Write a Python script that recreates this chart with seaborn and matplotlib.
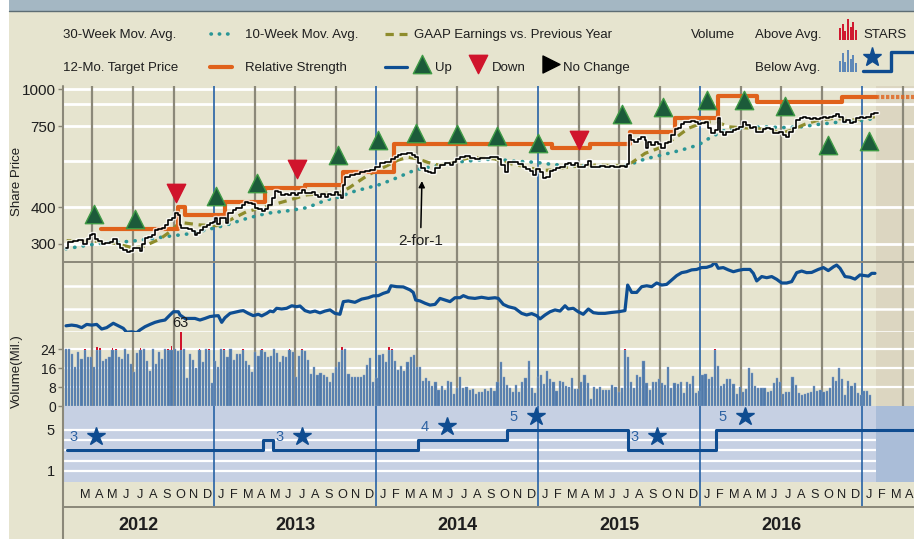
import numpy as np
import matplotlib
matplotlib.use("Agg")
import matplotlib.pyplot as plt
import matplotlib.patheffects as pe
from matplotlib.patches import Rectangle
from matplotlib.ticker import NullLocator, NullFormatter
import seaborn as sns

# ---------------- data (x axis = months since Jan 2012) ----------------
first_week_month = 1.035
price_wk = [0.0, 0.8, 2.4, 4.0, 5.6, 6.7, 7.7, 8.3, 9.3, 10.4, 11.5, 12.6, 14.2, 15.2, 16.3, 17.4, 18.5, 19.5, 20.6, 21.7,
            22.8, 23.8, 24.4, 25.4, 26.5, 27.6, 28.7, 29.7, 30.8, 31.9, 32.9, 34.0, 35.1, 36.2, 36.7, 37.2, 38.3, 39.4, 40.5, 41.5,
            42.1, 43.1, 44.2, 45.3, 46.4, 47.4, 48.0, 48.5, 49.6, 50.6, 51.4, 52.3, 53.9, 54.9, 56.6, 57.6, 58.7, 59.8, 60.8, 61.9,
            63.0, 64.1, 65.1, 66.2, 67.3, 68.4, 69.4, 70.5, 71.6, 72.6, 73.7, 74.8, 75.9, 76.9, 78.0, 79.1, 80.2, 81.2, 82.3, 83.4,
            84.4, 85.5, 86.6, 87.7,
            88.2, 88.7, 89.3, 89.8, 91.4, 93.0, 94.6, 96.2, 97.9, 99.5, 101.1, 102.7, 103.8, 104.8, 105.9, 107.0, 108.0, 109.7,
            111.3, 112.3, 113.4, 114.5, 115.6, 116.6, 117.7, 118.8, 120.4, 122.0, 123.6, 124.7, 125.7, 126.8, 128.4, 130.0, 131.6,
            133.3, 134.9, 136.5, 138.1, 139.2, 140.2, 141.3, 142.4, 144.0, 145.6, 147.2, 148.3, 149.4, 150.4, 151.5, 152.6, 153.6,
            154.7, 155.8, 156.9, 157.9, 159.0, 160.6, 161.7, 162.8, 163.8, 164.9, 166.0, 167.1, 168.1, 169.2, 170.3, 171.9, 173.5,
            175.1, 176.5,
            178.3, 179.9, 180.8, 181.2, 182.1, 183.1, 184.2, 185.3, 186.4, 186.9, 187.4, 188.5, 189.6, 190.7, 191.7, 192.8, 193.9,
            194.9, 196.0, 197.1, 198.2, 199.2, 200.3, 201.4, 202.5, 203.5, 204.6, 205.7, 206.7, 207.8, 208.9, 210.0, 210.5, 211.6,
            212.6, 213.7, 214.8, 215.9, 216.9, 218.0, 219.1, 220.2, 221.2, 222.3, 223.4, 224.5, 225.5, 226.6, 227.7, 228.7, 229.8,
            230.9, 232.0, 233.0, 234.1, 235.2, 236.3, 237.3, 238.4, 239.5, 240.5, 241.6, 242.7, 243.8, 244.8, 245.9, 247.0, 248.1,
            249.1, 250.2, 251.3, 252.4, 253.4, 254.5, 255.6, 256.6, 257.7, 258.8, 259.3, 260.4, 261.5]
price_val = [290, 304, 306, 310, 301, 312, 322, 324, 312, 306, 299, 303, 304, 312, 299, 291, 287, 282, 283, 290,
             290, 285, 301, 314, 318, 322, 335, 338, 340, 348, 362, 366, 383, 376, 348, 340, 340, 337, 331, 322,
             326, 335, 342, 348, 354, 357, 366, 350, 366, 368, 353, 381, 391, 397, 407, 416, 412, 409, 398, 394,
             388, 393, 407, 428, 454, 451, 440, 442, 440, 445, 440, 445, 457, 445, 445, 449, 440, 434, 442, 434,
             442, 440, 449, 440,
             440, 428, 475, 507, 514, 517, 524, 530, 534, 548, 563, 570, 570, 582, 593, 600, 604, 608,
             600, 593, 563, 541, 530, 524, 520, 541, 555, 563, 555, 570, 582, 593, 597, 586, 582,
             588, 588, 593, 593, 582, 555, 527, 570, 570, 559, 548, 538, 530, 514, 538, 524, 500,
             507, 530, 534, 541, 545, 559, 563, 555, 566, 548, 545, 555, 573, 548, 548, 552, 548,
             550, 548,
             552, 548, 559, 701, 675, 666, 680, 692, 675, 632, 666, 649, 663, 652, 632, 658, 666,
             701, 735, 742, 763, 774, 778, 782, 774, 763, 769, 774, 742, 711, 729, 799, 720, 701,
             720, 720, 729, 735, 748, 778, 758, 742, 748, 720, 716, 735, 739, 735, 711, 711, 720,
             701, 692, 720, 739, 788, 803, 809, 799, 795, 799, 793, 803, 809, 803, 809, 813, 824,
             809, 778, 788, 769, 774, 799, 805, 799, 805, 809, 824, 830, 830]

ma_teal_m = [1.04, 2.81, 4.3, 5.78, 7.01, 8.5, 9.98, 11.46, 12.94, 14.42, 15.9, 17.39, 18.87, 20.35, 21.21, 22.44,
             24.17, 25.16, 26.89, 28.13, 29.11, 30.35, 31.58, 32.81, 34.05, 35.78, 37.01, 38.24, 39.73, 41.46, 42.69,
             43.93, 45.16, 46.64, 47.87, 48.87, 49.85, 51.33, 52.81, 54.05, 55.53, 56.76, 58.24, 59.73, 60.96]
ma_teal_v = [289, 298, 304, 306, 311, 318, 324, 335, 348, 366, 381, 388, 398, 423, 432, 453,
             475, 494, 534, 548, 560, 570, 577, 582, 573, 567, 558, 552, 551, 548, 555,
             582, 600, 624, 649, 692, 729, 743, 748, 743, 748, 762, 775, 782, 799]

ma_olive_m = [1.09, 4.05, 6.02, 6.76, 8.0, 8.74, 9.48, 10.96, 12.2, 12.94, 14.42, 15.9, 17.39, 18.87, 20.35, 21.21,
              21.95, 22.69, 23.43, 24.17, 24.91, 25.65, 26.39, 27.13, 27.87, 28.61, 29.36, 30.1, 30.84, 31.83, 32.81,
              33.8, 34.79, 35.53, 36.27, 37.01, 38.0, 39.24, 40.47, 41.65, 42.44, 43.06, 43.93, 44.91, 46.15, 47.13,
              48.13, 49.11, 50.1, 51.33, 52.57, 53.31, 54.05, 54.79, 55.78, 56.76, 58.0, 59.24, 60.22, 60.96]
ma_olive_v = [308, 306, 291, 294, 312, 330, 355, 348, 346, 357, 386, 402, 420, 440, 445, 445,
              463, 488, 514, 534, 555, 577, 590, 582, 566, 555, 561, 575, 586, 588, 582,
              563, 551, 541, 532, 534, 545, 552, 555, 552, 552, 570, 608, 632, 684, 739,
              769, 782, 748, 742, 735, 729, 711, 729, 763, 788, 799, 788, 799, 809]

target_m = [3.61, 9.36, 9.85, 12.81, 15.78, 18.74, 21.58, 25.36, 37.01, 39.85, 42.81, 46.15, 49.36, 52.2, 58.5]
target_v = [337, 400, 376, 415, 465, 475, 524, 652, 635, 652, 720, 803, 953, 905, 941]

rating_m = [3.13, 6.15, 9.16, 12.15, 15.16, 18.17, 21.16, 24.17, 26.96, 29.98, 32.99, 35.98, 39.04, 42.24,
            45.28, 48.5, 51.28, 54.3, 57.5, 60.54]
rating_v = [379, 365, 447, 437, 484, 537, 600, 675, 711, 705, 698, 657, 675, 826, 870, 924, 919, 880, 649, 671]
rating_dir = ['up', 'up', 'down', 'up', 'up', 'down', 'up', 'up', 'up', 'up', 'up', 'up', 'down', 'up',
              'up', 'up', 'up', 'up', 'up', 'up']

rs_m = [1.04, 1.46, 1.83, 2.2, 2.57, 2.94, 3.31, 3.68, 4.05, 4.54, 4.91, 5.28, 5.53, 5.9, 6.27, 6.52, 6.89, 7.26,
        7.63, 8.0, 8.37, 8.74, 8.99, 9.36, 9.48, 9.85, 10.22, 10.59, 10.96, 11.33, 11.7, 12.07, 12.32, 12.57, 12.81,
        13.19, 13.56, 13.93, 14.17, 14.54, 14.91, 15.28, 15.53, 15.9, 16.15, 16.39, 16.64, 17.01, 17.38, 17.76, 18.12,
        18.37, 18.74, 19.11, 19.48, 19.85, 20.22, 20.59,
        20.96, 21.33, 21.58, 21.95, 22.44, 22.94, 23.43, 23.8, 24.17, 24.54, 24.91, 25.11, 25.53, 26.02, 26.52, 26.76,
        26.94, 27.26, 27.63, 28.0, 28.37, 28.74, 29.11, 29.48, 29.85, 30.22, 30.47, 30.84, 31.33, 31.82, 32.32, 32.81,
        33.06, 33.43, 33.8, 34.29, 34.79, 35.16, 35.53, 35.9, 36.15, 36.52, 36.89, 37.26, 37.63, 38.0, 38.24, 38.61,
        38.98, 39.35, 39.73, 40.1, 40.47,
        40.96, 41.45, 41.95, 42.44, 42.64, 42.94, 43.31, 43.68, 44.05, 44.42, 44.79, 45.16, 45.53, 45.9, 46.27, 46.64,
        47.0, 47.38, 47.75, 48.12, 48.49, 48.86, 49.11, 49.35, 49.72, 50.1, 50.47, 50.84, 51.21, 51.7, 51.95, 52.2,
        52.57, 52.94, 53.31, 53.68, 54.05, 54.42, 54.79, 55.16, 55.53, 55.9, 56.27, 56.76, 57.14, 57.5, 57.9, 58.12,
        58.37, 58.74, 59.11, 59.48, 59.85, 60.22, 60.47, 60.72, 60.96]
rs_v = [0.27, 0.30, 0.27, 0.19, 0.33, 0.30, 0.33, 0.13, 0.19, 0.38, 0.27, 0.16, -0.01, 0.01, -0.03, 0.09, 0.23, 0.33,
        0.42, 0.48, 0.52, 0.74, 0.88, 0.88, 0.74, 0.59, 0.59, 0.59, 0.52, 0.59, 0.67, 0.70, 0.71, 0.42, 0.62,
        0.81, 0.86, 0.91, 0.93, 0.81, 0.71, 0.77, 0.70, 0.81, 0.91, 0.88, 1.03, 1.00, 1.03, 1.14, 1.10,
        1.13, 0.93, 0.86, 0.91, 0.83, 0.91, 0.96,
        0.81, 0.77, 1.32, 1.35, 1.29, 1.43, 1.49, 1.57, 1.58, 1.68, 1.75, 2.01, 1.97, 1.96, 1.83, 1.72,
        1.39, 1.35, 1.25, 1.17, 1.20, 1.46, 1.39, 1.32, 1.49, 1.49, 1.58, 1.49, 1.46, 1.51, 1.46, 1.49,
        1.46, 1.20, 1.10, 1.03, 0.81, 0.74, 0.80, 0.71, 0.57, 0.74, 0.88, 0.96, 0.91, 1.14, 1.00, 1.03,
        0.88, 0.77, 1.00, 0.84, 0.81,
        0.81, 0.85, 0.88, 0.93, 2.04, 1.72, 1.72, 1.97, 2.01, 1.97, 2.13, 2.04, 2.07, 2.26, 2.45, 2.58,
        2.62, 2.70, 2.72, 2.80, 2.81, 2.88, 3.03, 2.77, 2.80, 2.70, 2.62, 2.68, 2.72, 2.72, 2.55, 2.22,
        2.41, 2.36, 2.41, 2.29, 2.13, 2.13, 2.19, 2.58, 2.65, 2.58, 2.59, 2.72, 2.80, 2.67, 2.84, 2.91,
        2.77, 2.41, 2.38, 2.30, 2.48, 2.45, 2.43, 2.55, 2.55]

volume = [23.9, 23.9, 21.7, 16.4, 22.9, 19.9, 24.1, 20.7, 20.7, 16.3,
          25.0, 24.4, 18.9, 19.9, 20.7, 24.6, 24.1, 20.7, 19.9, 23.9,
          21.7, 17.7, 14.3, 22.4, 24.3, 23.9, 19.1, 14.6, 23.9, 17.7,
          22.7, 19.6, 23.9, 24.1, 25.3, 23.9, 23.1, 63.0, 23.9, 11.7,
          21.7, 19.3, 16.0, 24.1, 18.4, 23.9, 24.1, 9.6, 18.9, 16.4,
          23.9, 24.1, 20.7, 23.9, 19.3, 22.1, 21.7, 24.1, 18.9, 17.4,
          14.3, 22.9, 21.0, 24.1, 22.9, 20.7, 21.0, 23.9, 22.4, 18.4,
          21.0, 20.7, 24.1, 22.7, 12.4, 21.0, 24.1, 23.1, 19.3, 13.6,
          16.4, 13.1, 14.1, 13.1, 12.4, 10.3, 13.9, 16.4,
          18.6, 25.0, 23.9, 13.4, 12.1, 12.4, 12.1, 12.1, 13.1, 17.1,
          20.3, 10.3, 11.7, 21.3, 22.0, 18.4, 25.0, 24.1, 19.1, 15.3,
          17.0, 14.9, 18.6, 20.7, 21.4, 16.6, 16.3, 10.7, 11.7, 10.6,
          8.6, 10.3, 6.7, 8.4, 6.7, 10.7, 10.3, 4.9, 7.4, 12.4,
          7.4, 8.1, 6.7, 7.0, 5.0, 6.0, 6.0, 7.1, 6.3, 7.4,
          6.4, 10.0, 18.6, 12.1, 8.9, 7.4, 6.0, 8.9, 5.7, 10.0,
          11.7, 19.1, 7.4, 5.3, 12.4, 13.1, 9.3, 14.9, 11.3, 10.3,
          6.3, 10.7, 10.3, 8.4, 8.1, 12.0, 7.0, 7.0, 9.9, 13.1,
          9.6, 2.9, 7.9, 7.1, 7.9, 6.7, 6.7, 6.7,
          8.9, 8.1, 6.0, 7.7, 24.2, 20.6, 9.9, 7.7, 12.9, 12.1,
          18.9, 9.6, 6.7, 10.0, 10.0, 11.3, 9.6, 8.9, 16.3, 7.4,
          9.6, 9.3, 10.3, 5.6, 10.0, 9.1, 12.7, 5.3, 6.3, 13.1,
          13.6, 11.3, 12.4, 24.1, 17.0, 8.4, 9.3, 11.3, 11.4, 9.1,
          5.0, 7.9, 5.7, 7.1, 16.0, 14.1, 8.4, 7.4, 7.4, 7.4,
          5.7, 6.3, 9.6, 11.7, 10.3, 5.0, 6.0, 6.0, 12.1, 8.9,
          5.6, 4.6, 5.0, 5.3, 5.7, 8.4, 6.3, 6.7, 5.7, 6.3,
          7.4, 12.1, 10.7, 16.0, 11.3, 4.6, 10.6, 8.6, 9.6, 5.3,
          4.6, 6.4, 6.3, 4.6]
vol_above_avg = 24.0

stars_m = [1.09, 15.63, 16.37, 27.11, 33.70, 42.67, 49.19]
stars_v = [3, 4, 3, 4, 5, 3, 5]

split_m, split_tip, split_text, split_label = 27.4, 490, 308, "2-for-1"
future_start = 61.04
month_letters = "JFMAMJJASOND"
years = [2012, 2013, 2014, 2015, 2016]
price_ticks = [300, 400, 750, 1000]
price_grid = [300, 400, 573, 750, 890, 1000]
vol_ticks = [0, 8, 16, 24]
star_ticks = [1, 5]

# ---------------- style ----------------
sns.set_theme(style="white", rc={"axes.facecolor": "none"})
plt.rcParams["font.family"] = ["Liberation Sans", "DejaVu Sans"]

BEIGE, FUT = "#e6e4cf", "#dcd6c1"
STARBG, STARFUT = "#c6d0e3", "#aabdd8"
QGRAY, YBLUE = "#8b8879", "#2762a5"
TEAL, OLIVE, ORANGE = "#2a9696", "#8e8c2c", "#e0621b"
RSBLUE, STARBLUE = "#0e4e92", "#0f4c90"
GREEN, GREEN_EDGE, RED = "#1c5b3a", "#3f9a45", "#d0142c"
VOLBLUE, VOLEDGE = "#4f79a9", "#86a3c7"
TXT = "#1e1e1e"

W, H = 914, 539
fig = plt.figure(figsize=(W / 100, H / 100), dpi=100)
fig.patch.set_facecolor("white")


def add_ax(x0, y0, x1, y1):
    return fig.add_axes([x0 / W, 1 - y1 / H, (x1 - x0) / W, (y1 - y0) / H])


bg = add_ax(0, 0, W, H)
bg.set_xlim(0, W); bg.set_ylim(H, 0); bg.axis("off")
bg.add_patch(Rectangle((9, 10.5), W - 9, H, color=BEIGE, lw=0))
bg.add_patch(Rectangle((9, 0), W - 9, 10.5, color="#a4b7c3", lw=0))
bg.plot([9, W], [10.8, 10.8], color="#5d6d74", lw=1)

XMIN, XMAX = 0.815, 63.85
ax_p = add_ax(63, 86, 914, 262)
ax_rs = add_ax(63, 262, 914, 332)
ax_v = add_ax(63, 332, 914, 406)
ax_s = add_ax(63, 406, 914, 482)
ax_m = add_ax(63, 482, 914, 507)
ax_y = add_ax(63, 507, 914, 539)

quarters = [m for m in range(3, 64, 3) if m % 12 != 0]
yearlines = [12, 24, 36, 48, 60]

for ax in [ax_p, ax_rs, ax_v, ax_s, ax_m, ax_y]:
    for s in ax.spines.values():
        s.set_visible(False)
    ax.set_xticks([])
for ax in [ax_p, ax_rs, ax_v]:
    ax.axvspan(future_start, XMAX, color=FUT, lw=0, zorder=0)
    for q in quarters:
        ax.axvline(q, color=QGRAY, lw=1.6, zorder=2)
for ax in [ax_p, ax_rs, ax_v, ax_s, ax_m]:
    for yl in yearlines:
        ax.axvline(yl, color=YBLUE, lw=1.2, zorder=2.5)

# ---- price panel ----
ax_p.set_yscale("log")
for v in price_grid:
    ax_p.axhline(v, color="white", lw=2, zorder=1)
sns.lineplot(x=ma_teal_m, y=ma_teal_v, ax=ax_p, color=TEAL, lw=2.6, sort=False, estimator=None,
             linestyle=(0, (0.1, 2.3)), dash_capstyle="round", zorder=3)
sns.lineplot(x=ma_olive_m, y=ma_olive_v, ax=ax_p, color=OLIVE, lw=2.3, sort=False, estimator=None,
             linestyle=(0, (2.6, 1.8)), zorder=3)
tx = list(target_m) + [future_start]
ty = list(target_v) + [target_v[-1]]
sns.lineplot(x=tx, y=ty, ax=ax_p, color=ORANGE, lw=3, sort=False, estimator=None,
             drawstyle="steps-post", zorder=4)
sns.lineplot(x=[future_start, XMAX], y=[target_v[-1]] * 2, ax=ax_p, color=ORANGE, lw=3, alpha=0.8,
             linestyle=(0, (0.8, 0.4)), zorder=4)
price_m = first_week_month + np.array(price_wk) * 7 / 30.4375
sns.lineplot(x=price_m, y=price_val, ax=ax_p, color="black", lw=1.2, sort=False, estimator=None,
             drawstyle="steps-post", zorder=5,
             path_effects=[pe.Stroke(linewidth=3.2, foreground="white", alpha=0.75), pe.Normal()])
rm = np.array(rating_m); rv = np.array(rating_v); rd = np.array(rating_dir)
sns.scatterplot(x=rm[rd == "up"], y=rv[rd == "up"], ax=ax_p, marker="^", s=175, color=GREEN,
                edgecolor=GREEN_EDGE, linewidth=1, zorder=6)
sns.scatterplot(x=rm[rd == "down"], y=rv[rd == "down"], ax=ax_p, marker="v", s=175, color=RED,
                edgecolor=RED, linewidth=1, zorder=6)
ax_p.annotate(split_label, xy=(split_m, split_tip), xytext=(split_m - 0.1, split_text),
              ha="center", va="center", fontsize=11, color=TXT, zorder=7,
              arrowprops=dict(arrowstyle="-|>", color="black", lw=1.1, mutation_scale=9, shrinkA=2, shrinkB=0))
ax_p.set_ylim(260.7, 1027.6)
ax_p.set_yticks(price_ticks)
ax_p.set_yticklabels([str(v) for v in price_ticks])
ax_p.yaxis.set_minor_locator(NullLocator()); ax_p.yaxis.set_minor_formatter(NullFormatter())
ax_p.tick_params(axis="y", length=3.5, width=1, color=QGRAY, pad=1.5, labelsize=11, labelcolor=TXT, left=True)

# ---- relative strength panel ----
for v in [0, 1, 2]:
    ax_rs.axhline(v, color="white", lw=1.8, zorder=1)
sns.lineplot(x=rs_m, y=rs_v, ax=ax_rs, color=RSBLUE, lw=2.3, sort=False, estimator=None, zorder=5)
ax_rs.set_ylim(0, 3.043)
ax_rs.set_yticks([])

# ---- volume panel ----
vol = np.array(volume)
vm = first_week_month + np.arange(len(vol)) * 7 / 30.4375
cap = 23.4
hi = vol >= vol_above_avg
for v in vol_ticks[1:]:
    ax_v.axhline(v, color="white", lw=1.6, zorder=1)
ax_v.bar(vm, np.where(hi, cap, vol), width=0.16, color=VOLBLUE, edgecolor=VOLEDGE, linewidth=0.3, zorder=3)
ax_v.bar(vm[hi], vol[hi] - cap, bottom=cap, width=0.14, color=RED, linewidth=0, zorder=3)
imax = int(np.argmax(vol))
ax_v.text(vm[imax], 34.9, f"{vol[imax]:.0f}", ha="center", va="center", fontsize=10.5, color=TXT,
          clip_on=False, zorder=8)
ax_v.set_ylim(0, 31.16)
ax_v.set_yticks(vol_ticks)
ax_v.tick_params(axis="y", length=3.5, width=1, color=QGRAY, pad=1.5, labelsize=10, labelcolor=TXT, left=True)

# ---- stars panel ----
ax_s.set_facecolor(STARBG)
ax_s.axvspan(future_start, XMAX, color=STARFUT, lw=0, zorder=0.5)
ax_s.hlines([1, 2, 3, 4, 5], XMIN, future_start, color="white", lw=1.6, zorder=1)
sx = list(stars_m) + [XMAX]
sy = list(stars_v) + [stars_v[-1]]
sns.lineplot(x=sx, y=sy, ax=ax_s, color=STARBLUE, lw=2.2, sort=False, estimator=None,
             drawstyle="steps-post", zorder=4)
for i, (m0, lv) in enumerate(zip(stars_m, stars_v)):
    m1 = sx[i + 1]
    if m1 - m0 > 2:
        ax_s.text(m0 + 0.49, lv + 1.29, str(lv), ha="center", va="center", fontsize=10.5,
                  color="#2d62a3", zorder=5)
        ax_s.plot(m0 + 2.15, lv + 1.41, marker="*", ms=13.5, color=STARBLUE, zorder=5)
ax_s.set_ylim(-0.073, 7.34)
ax_s.set_yticks(star_ticks)
ax_s.tick_params(axis="y", length=0, pad=6, labelsize=10.5, labelcolor=TXT, left=True)

# ---- month & year rows ----
ax_m.set_ylim(0, 1); ax_m.set_yticks([])
for m in range(2, 64):
    ax_m.text(m + 0.5, 0.48, month_letters[m % 12], ha="center", va="center", fontsize=9.2,
              color=TXT, clip_on=True)
ax_y.set_ylim(0, 1); ax_y.set_yticks([])
for k, yr in enumerate(years):
    a, b = max(12 * k, XMIN), 12 * (k + 1)
    ax_y.text((a + b) / 2, 0.42, str(yr), ha="center", va="center", fontsize=13, fontweight="bold", color=TXT)
for ax in [ax_p, ax_rs, ax_v, ax_s, ax_m, ax_y]:
    ax.set_xlim(XMIN, XMAX)
    ax.set_xlabel(""); ax.set_ylabel("")

# ---------------- overlay: frame lines, legend, axis titles ----------------
ov = add_ax(0, 0, W, H)
ov.set_xlim(0, W); ov.set_ylim(H, 0); ov.axis("off")
ov.plot([63, 63], [86, 539], color=QGRAY, lw=1.5)
ov.plot([63, 914], [262.3, 262.3], color=QGRAY, lw=1.4)
ov.plot([63, 914], [507, 507], color=QGRAY, lw=1.4)
ov.text(16.5, 181, "Share Price", rotation=90, ha="center", va="center", fontsize=9.5, color=TXT)
ov.text(16.5, 371, "Volume(Mil.)", rotation=90, ha="center", va="center", fontsize=9.5, color=TXT)

fs = 9.5
ov.text(63, 35, "30-Week Mov. Avg.", va="center", fontsize=fs, color=TXT)
ov.plot([211, 228.5], [34.3, 34.3], color=TEAL, lw=2.6, linestyle=(0, (0.1, 2.2)), dash_capstyle="round")
ov.text(245, 35, "10-Week Mov. Avg.", va="center", fontsize=fs, color=TXT)
ov.plot([385, 407], [34.3, 34.3], color=OLIVE, lw=2.3, linestyle=(0, (2.6, 1.8)))
ov.text(414, 35, "GAAP Earnings vs. Previous Year", va="center", fontsize=fs, color=TXT)
ov.text(691, 35, "Volume", va="center", fontsize=fs, color=TXT)
ov.text(755, 35, "Above Avg.", va="center", fontsize=fs, color=TXT)
ov.text(863, 35, "STARS", va="center", fontsize=fs, color=TXT)
ov.text(63, 68, "12-Mo. Target Price", va="center", fontsize=fs, color=TXT)
ov.plot([210, 232], [66.5, 66.5], color=ORANGE, lw=3)
ov.text(245, 68, "Relative Strength", va="center", fontsize=fs, color=TXT)
ov.plot([385, 407], [66.5, 66.5], color=RSBLUE, lw=2.3)
ov.scatter([422], [64], marker="^", s=175, color=GREEN, edgecolor=GREEN_EDGE, linewidth=1)
ov.text(435, 68, "Up", va="center", fontsize=fs, color=TXT)
ov.scatter([478], [63.5], marker="v", s=175, color=RED, edgecolor=RED, linewidth=1)
ov.text(492, 68, "Down", va="center", fontsize=fs, color=TXT)
ov.scatter([551], [63.5], marker=">", s=150, color="black")
ov.text(563, 68, "No Change", va="center", fontsize=fs, color=TXT)
ov.text(755, 68, "Below Avg.", va="center", fontsize=fs, color=TXT)
icon_x = np.linspace(840, 856, 7)
ov.vlines(icon_x, 40, [28, 24, 31, 19, 27, 22, 30], color=RED, lw=1.4)
ov.vlines(icon_x, 71.5, [61, 53, 62, 50, 59, 55, 63], color="#5b86b8", lw=1.4)
ov.plot([863, 890.5, 890.5, 914], [70.5, 70.5, 51.8, 51.8], color=STARBLUE, lw=2.4)
ov.plot([871.7], [56.5], marker="*", ms=14, color=STARBLUE)

fig.savefig("out.png", dpi=100)
